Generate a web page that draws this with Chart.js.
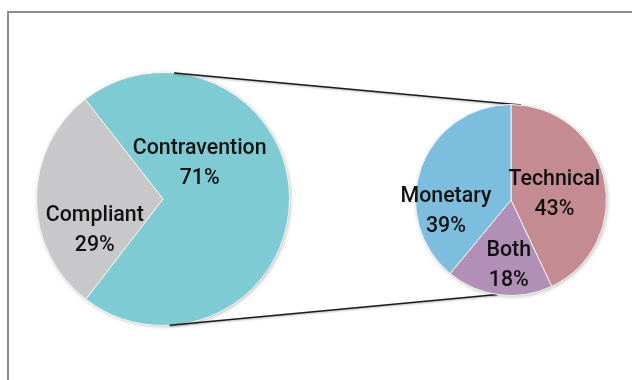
<!DOCTYPE html>
<html>
<head>
<meta charset="utf-8">
<script src="https://cdn.jsdelivr.net/npm/chart.js@4"></script>
<style>
  body { margin: 0; background: #fff; }
  #wrap { position: relative; width: 632px; height: 380px; overflow: hidden; }
  #frame { position: absolute; left: 7px; top: 11px; width: 700px; height: 500px; border-left: 2px solid #8c8c8c; border-top: 2px solid #8c8c8c; }
  canvas { position: absolute; left: 0; top: 0; }
</style>
</head>
<body>
<div id="wrap">
  <div id="frame"></div>
  <canvas id="mainPie" width="632" height="380"></canvas>
  <canvas id="subPie" width="632" height="380"></canvas>
</div>
<script>
// outer pie
var mainLabels = ['Contravention', 'Compliant'];
var mainValues = [71, 29];
var mainColors = ['#7ecbd3', '#c8c8ca'];

// breakdown of contraventions
var subLabels = ['Technical', 'Both', 'Monetary'];
var subValues = [43, 18, 39];
var subColors = ['#c48b92', '#b18fb6', '#7dbedf'];

// where each label sits: angle (deg clockwise from top) and distance as fraction of radius
var mainLabelPos = [[45, 0.41], [246, 0.59]];
var subLabelPos = [[81, 0.46], [182, 0.68], [261, 0.69]];

function arcGeom(chart) {
  var a = chart.getDatasetMeta(0).data[0];
  return { x: a.x, y: a.y, r: a.outerRadius };
}

function labelPlugin(posList) {
  return {
    id: 'pieLabels',
    afterDatasetsDraw: function(chart) {
      var ctx = chart.ctx;
      var g = arcGeom(chart);
      var labels = chart.data.labels;
      var vals = chart.data.datasets[0].data;
      ctx.save();
      ctx.fillStyle = '#111';
      ctx.font = '500 22px Roboto, sans-serif';
      ctx.textAlign = 'center';
      ctx.textBaseline = 'middle';
      for (var i = 0; i < labels.length; i++) {
        var ang = (posList[i][0] - 90) * Math.PI / 180;
        var d = posList[i][1] * g.r;
        var x = g.x + Math.cos(ang) * d;
        var y = g.y + Math.sin(ang) * d;
        ctx.save();
        ctx.translate(x, y);
        ctx.scale(0.97, 1);
        ctx.fillText(labels[i], 0, -14);
        ctx.fillText(vals[i] + '%', 0, 16);
        ctx.restore();
      }
      ctx.restore();
    }
  };
}

var shadowPlugin = {
  id: 'pieShadow',
  beforeDatasetsDraw: function(chart) {
    var ctx = chart.ctx;
    var g = arcGeom(chart);
    ctx.save();
    ctx.shadowColor = 'rgba(0,0,0,0.35)';
    ctx.shadowBlur = 4;
    ctx.shadowOffsetX = 1;
    ctx.shadowOffsetY = 1;
    ctx.fillStyle = '#ddd';
    ctx.beginPath();
    ctx.arc(g.x, g.y, g.r - 0.5, 0, Math.PI * 2);
    ctx.fill();
    ctx.restore();
  }
};

var mainChart = new Chart(document.getElementById('mainPie').getContext('2d'), {
  type: 'pie',
  data: {
    labels: mainLabels,
    datasets: [{ data: mainValues, backgroundColor: mainColors, borderColor: '#f4f4f4', borderWidth: 1 }]
  },
  options: {
    responsive: false,
    animation: false,
    rotation: -38,
    layout: { padding: { left: 36, right: 342, top: 72, bottom: 54 } },
    plugins: { legend: { display: false }, tooltip: { enabled: false } }
  },
  plugins: [shadowPlugin, labelPlugin(mainLabelPos)]
});

// connector lines between the two pies
var linkPlugin = {
  id: 'links',
  beforeDatasetsDraw: function(chart) {
    var a = arcGeom(mainChart);
    var b = arcGeom(chart);
    var ctx = chart.ctx;
    var t1 = -85 * Math.PI / 180, t2 = 87 * Math.PI / 180;
    ctx.save();
    ctx.strokeStyle = '#1a1a1a';
    ctx.lineWidth = 1.6;
    ctx.shadowColor = 'rgba(0,0,0,0.3)';
    ctx.shadowBlur = 2;
    ctx.shadowOffsetY = 1;
    ctx.beginPath();
    ctx.moveTo(a.x + Math.cos(t1) * a.r, a.y + Math.sin(t1) * a.r);
    ctx.lineTo(b.x + Math.cos(-84 * Math.PI / 180) * b.r, b.y + Math.sin(-84 * Math.PI / 180) * b.r);
    ctx.moveTo(a.x + Math.cos(t2) * a.r, a.y + Math.sin(t2) * a.r);
    ctx.lineTo(b.x + Math.cos(98 * Math.PI / 180) * b.r, b.y + Math.sin(98 * Math.PI / 180) * b.r);
    ctx.stroke();
    ctx.restore();
  }
};

var subChart = new Chart(document.getElementById('subPie').getContext('2d'), {
  type: 'pie',
  data: {
    labels: subLabels,
    datasets: [{ data: subValues, backgroundColor: subColors, borderColor: '#f4f4f4', borderWidth: 1 }]
  },
  options: {
    responsive: false,
    animation: false,
    rotation: 0,
    layout: { padding: { left: 415, right: 25, top: 104, bottom: 84 } },
    plugins: { legend: { display: false }, tooltip: { enabled: false } }
  },
  plugins: [linkPlugin, shadowPlugin, labelPlugin(subLabelPos)]
});
</script>
</body>
</html>
